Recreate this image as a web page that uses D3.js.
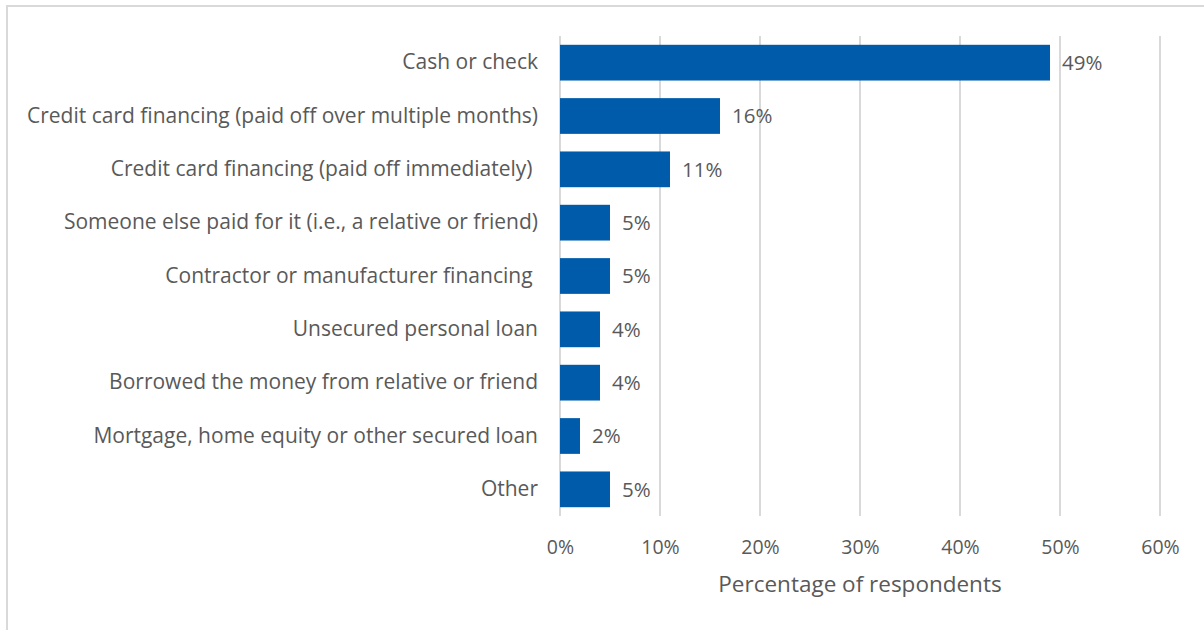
<!DOCTYPE html>
<html>
<head>
<meta charset="utf-8">
<script src="https://cdn.jsdelivr.net/npm/d3@7"></script>
<style>
  html, body { margin: 0; padding: 0; background: #fff; }
  svg { display: block; }
  text { font-family: "Open Sans", Lato, sans-serif; fill: #595959; white-space: pre; }
</style>
</head>
<body>
<svg id="chart" width="1204" height="630"></svg>
<script>
// Payment methods and share of respondents (%)
const categories = [
  "Cash or check",
  "Credit card financing (paid off over multiple months)",
  "Credit card financing (paid off immediately) ",
  "Someone else paid for it (i.e., a relative or friend)",
  "Contractor or manufacturer financing ",
  "Unsecured personal loan",
  "Borrowed the money from relative or friend",
  "Mortgage, home equity or other secured loan",
  "Other"
];
const values = [49, 16, 11, 5, 5, 4, 4, 2, 5];
const xTicks = [0, 10, 20, 30, 40, 50, 60];
const xTitle = "Percentage of respondents";

const FONT = "'Open Sans', Lato, sans-serif";
const svg = d3.select("#chart");
const W = 1204, H = 630;
const plot = { left: 560, right: 1160, top: 36, bottom: 516 };

// outer frame
svg.append("path")
  .attr("d", `M7,${H} L7,6 L${W},6`)
  .attr("fill", "none")
  .attr("stroke", "#d9d9d9")
  .attr("stroke-width", 2);

const x = d3.scaleLinear().domain([0, 60]).range([plot.left, plot.right]);
const y = d3.scaleBand().domain(categories).range([plot.top, plot.bottom]).paddingInner(0.33).paddingOuter(0.165);

// vertical gridlines
svg.append("g").selectAll("line").data(xTicks).join("line")
  .attr("x1", d => x(d)).attr("x2", d => x(d))
  .attr("y1", plot.top).attr("y2", plot.bottom)
  .attr("stroke", "#d9d9d9").attr("stroke-width", 2);

// bars
svg.append("g").selectAll("rect").data(values).join("rect")
  .attr("x", x(0))
  .attr("y", (d, i) => y(categories[i]))
  .attr("width", d => x(d) - x(0))
  .attr("height", y.bandwidth())
  .attr("fill", "#005BAA");

// value labels
svg.append("g").selectAll("text").data(values).join("text")
  .attr("x", d => x(d) + 12)
  .attr("y", (d, i) => y(categories[i]) + y.bandwidth() / 2)
  .attr("dy", "0.36em")
  .attr("font-size", 20.5)
  .text(d => d + "%");

// category axis labels
const yAxis = d3.axisLeft(y).tickSize(0).tickPadding(22);
const gy = svg.append("g").attr("transform", `translate(${plot.left},0)`).call(yAxis);
gy.select(".domain").remove();
gy.selectAll("text").attr("font-size", 21).attr("fill", "#595959")
  .style("font-family", FONT);

// percentage axis
const xAxis = d3.axisBottom(x).tickValues(xTicks).tickSize(0).tickPadding(24).tickFormat(d => d + "%");
const gx = svg.append("g").attr("transform", `translate(0,${plot.bottom})`).call(xAxis);
gx.select(".domain").remove();
gx.selectAll("text").attr("font-size", 19.5).attr("fill", "#595959")
  .style("font-family", FONT);

svg.append("text")
  .attr("x", (plot.left + plot.right) / 2)
  .attr("y", 592)
  .attr("text-anchor", "middle")
  .attr("font-size", 22.5)
  .text(xTitle);
</script>
</body>
</html>
